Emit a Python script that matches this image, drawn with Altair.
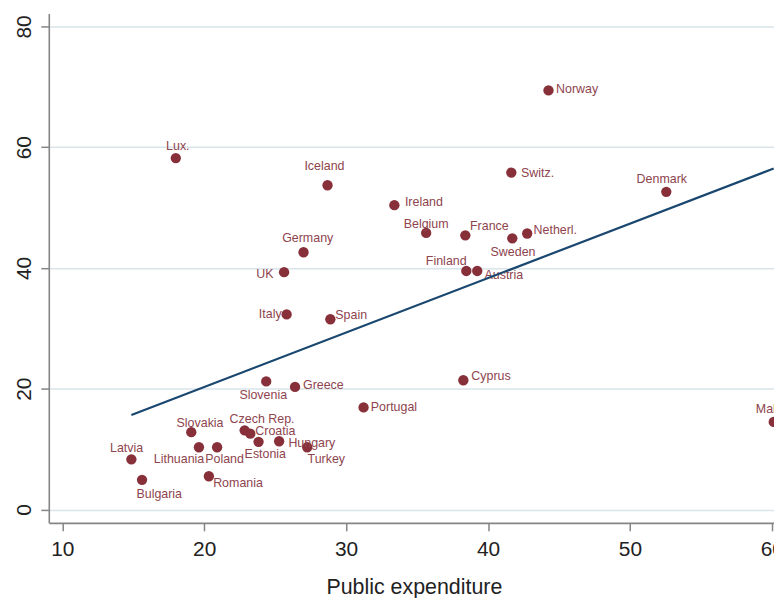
import altair as alt
import numpy as np
import pandas as pd

# ---- data ----
countries = ["Norway", "Switz.", "Denmark", "Ireland", "Belgium", "France", "Sweden",
             "Netherl.", "Finland", "Austria", "Iceland", "Germany", "UK", "Italy",
             "Spain", "Lux.", "Slovenia", "Greece", "Portugal", "Cyprus", "Malta",
             "Slovakia", "Czech Rep.", "Croatia", "Estonia", "Hungary", "Turkey",
             "Lithuania", "Poland", "Latvia", "Bulgaria", "Romania"]
public_expenditure = [44.26, 41.64, 52.56, 33.40, 35.64, 38.40, 41.71,
                      42.76, 38.47, 39.24, 28.69, 27.00, 25.63, 25.81,
                      28.89, 18.00, 24.37, 26.40, 31.23, 38.26, 60.13,
                      19.09, 22.85, 23.25, 23.83, 25.28, 27.26,
                      19.63, 20.91, 14.87, 15.62, 20.33]
outcome = [69.4, 55.8, 52.6, 50.4, 45.8, 45.4, 44.9,
           45.7, 39.5, 39.5, 53.7, 42.6, 39.3, 32.3,
           31.5, 58.2, 21.2, 20.3, 16.9, 21.4, 14.5,
           12.8, 13.1, 12.55, 11.2, 11.3, 10.3,
           10.3, 10.3, 8.3, 4.9, 5.5]

x_ticks = [10, 20, 30, 40, 50, 60]
y_ticks = [0, 20, 40, 60, 80]

# label placement (align, dx, dy) in pixels relative to each marker
label_style = {
    "Norway": ("left", 7.6, -1), "Switz.": ("left", 9.7, 0.5),
    "Denmark": ("center", -4.5, -12.6), "Ireland": ("left", 10.6, -3.4),
    "Belgium": ("center", 0, -9.4), "France": ("left", 4.7, -9.7),
    "Sweden": ("center", 0.7, 14), "Netherl.": ("left", 6.4, -3.7),
    "Finland": ("right", 0.3, -9.7), "Austria": ("left", 7.3, 3.6),
    "Iceland": ("center", -3.1, -19.3), "Germany": ("center", 4.2, -14.3),
    "UK": ("right", -10.7, 1.6), "Italy": ("right", -5, -0.7),
    "Spain": ("left", 5, -4.7), "Lux.": ("center", 2, -11.6),
    "Slovenia": ("center", -3, 14), "Greece": ("left", 8, -2.3),
    "Portugal": ("left", 7.3, 0), "Cyprus": ("left", 8, -4.7),
    "Malta": ("left", -18, -13.4), "Slovakia": ("center", 8.8, -9.4),
    "Czech Rep.": ("center", 17.5, -11.4), "Croatia": ("left", 5, -2.6),
    "Estonia": ("center", 6.8, 12.7), "Hungary": ("left", 9.3, 1.6),
    "Turkey": ("left", 0.3, 11.6), "Lithuania": ("right", 5.3, 12),
    "Poland": ("center", 7.5, 12), "Latvia": ("center", -4.8, -11.3),
    "Bulgaria": ("center", 17.3, 14.3), "Romania": ("left", 4.3, 6.7),
}

df = pd.DataFrame({"country": countries, "x": public_expenditure, "y": outcome})

# linear fit (as Stata lfit)
slope, intercept = np.polyfit(df["x"], df["y"], 1)
fit_x = [float(df["x"].min()), float(df["x"].max())]
fit_df = pd.DataFrame({"x": fit_x, "y": [intercept + slope * v for v in fit_x]})

MAROON = "#88303a"
LABEL = "#8e444e"
NAVY = "#1a476f"
GRID = "#d9e5ea"
AXIS = "#858585"
FONT = "Liberation Sans"

xscale = alt.Scale(domain=[9.05, 60.15], nice=False, zero=False)
yscale = alt.Scale(domain=[-2.22, 82.14], nice=False, zero=False)

X = alt.X("x:Q", scale=xscale,
          axis=alt.Axis(values=x_ticks, grid=False, tickSize=8, tickWidth=1.5,
                        tickColor=AXIS, domainColor=AXIS, domainWidth=1.6,
                        labelFontSize=21, labelFont=FONT, labelColor="#222222",
                        labelBaseline="alphabetic", labelPadding=25,
                        title="Public expenditure", titleFontSize=21.5,
                        titleFont=FONT, titleFontWeight="normal",
                        titleColor="#222222", titleBaseline="alphabetic",
                        titleAlign="center", titleX=367, titleY=71))
Y = alt.Y("y:Q", scale=yscale,
          axis=alt.Axis(values=y_ticks, grid=True, gridColor=GRID, gridWidth=1.5,
                        tickSize=8, tickWidth=1.5, tickColor=AXIS,
                        domainColor=AXIS, domainWidth=1.6,
                        labelFontSize=21, labelFont=FONT, labelColor="#222222",
                        labelAngle=270, labelAlign="center",
                        labelBaseline="alphabetic", labelPadding=10, title=None))

points = alt.Chart(df).mark_circle(size=108, opacity=1, color=MAROON).encode(x=X, y=Y)

label_layers = []
for c in countries:
    al, dx, dy = label_style[c]
    label_layers.append(
        alt.Chart(df).transform_filter(alt.datum.country == c)
        .mark_text(align=al, baseline="middle", dx=dx, dy=dy, fontSize=12.5,
                   font=FONT, color=LABEL)
        .encode(x=X, y=Y, text="country:N")
    )

line = alt.Chart(fit_df).mark_line(color=NAVY, strokeWidth=2.2).encode(x=X, y=Y)

chart = alt.layer(points, *label_layers, line).properties(
    width=729, height=512,
    autosize=alt.AutoSizeParams(type="none"),
    padding={"left": 41, "top": 4, "right": 0, "bottom": 74},
    background="white",
).configure_view(stroke=None)

chart.save("out.html", embed_options={"renderer": "svg", "actions": False})
